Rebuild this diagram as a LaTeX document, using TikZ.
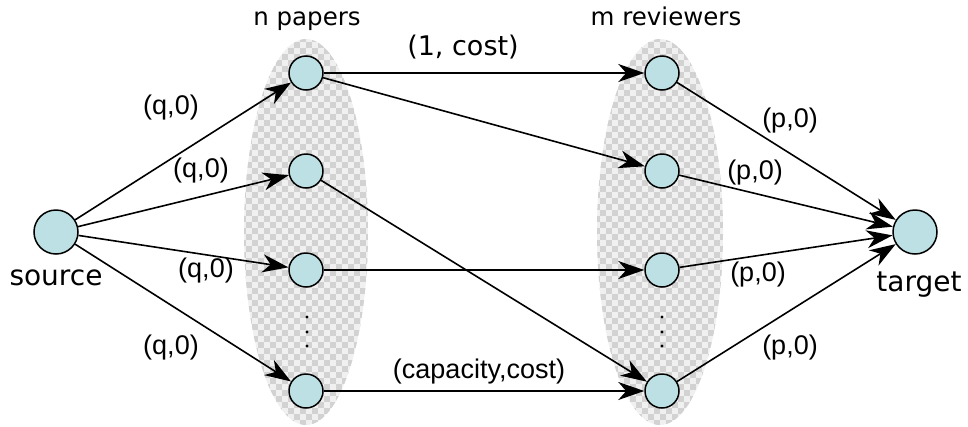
\documentclass[tikz,border=0pt]{standalone}
\usepackage{fontspec}
\setmainfont{DejaVu Sans}
\newfontfamily\lib{Liberation Sans}
\usetikzlibrary{arrows.meta}
\definecolor{nodefill}{HTML}{BCE0E3}
\definecolor{chkA}{HTML}{D2D2D2}
\definecolor{chkB}{HTML}{F0F0F0}
\tikzset{
  flowtip/.tip={Stealth[length=26pt,width=18pt,inset=8pt]},
}
\begin{document}
\begin{tikzpicture}[x=1pt,y=-1pt,
  vtx/.style={circle,draw,line width=1.5pt,fill=nodefill,minimum size=34pt,inner sep=0pt},
  bigvtx/.style={vtx,minimum size=44pt},
  flowedge/.style={line width=1.6pt,-flowtip},
  lbl/.style={font=\lib\fontsize{27}{30}\selectfont,inner sep=0pt},
  hdr/.style={font=\fontsize{24.5}{28}\selectfont,inner sep=0pt,anchor=base},
  big/.style={font=\fontsize{28}{31}\selectfont,inner sep=0pt,anchor=base},
  dot/.style={circle,fill=black,inner sep=0pt,minimum size=3.2pt}
]
\useasboundingbox (0,0) rectangle (968,426);

% checkered ellipses
\begin{scope}
\clip (306,232) ellipse [x radius=62, y radius=193];
\fill[chkB] (240,36) rectangle (372,430);
\foreach \i in {0,...,10} \foreach \j in {0,...,32} {
  \fill[chkA] (240+12*\i,36+12*\j) rectangle ++(6,6);
  \fill[chkA] (246+12*\i,42+12*\j) rectangle ++(6,6);}
\end{scope}
\begin{scope}
\clip (660,232) ellipse [x radius=63, y radius=193];
\fill[chkB] (594,36) rectangle (726,430);
\foreach \i in {0,...,10} \foreach \j in {0,...,32} {
  \fill[chkA] (594+12*\i,36+12*\j) rectangle ++(6,6);
  \fill[chkA] (600+12*\i,42+12*\j) rectangle ++(6,6);}
\end{scope}

% nodes
\node[bigvtx] (s) at (56,232) {};
\node[bigvtx] (t) at (915,232) {};
\node[vtx] (p1) at (306,73) {};
\node[vtx] (p2) at (306,171) {};
\node[vtx] (p3) at (306,270) {};
\node[vtx] (p4) at (306,391) {};
\node[vtx] (r1) at (662,73) {};
\node[vtx] (r2) at (662,171) {};
\node[vtx] (r3) at (662,270) {};
\node[vtx] (r4) at (662,391) {};

\node[dot] (pd1) at (307,317) {};
\node[dot] (pd2) at (307,332) {};
\node[dot] (pd3) at (307,346) {};
\node[dot] (rd1) at (662,317) {};
\node[dot] (rd2) at (662,332) {};
\node[dot] (rd3) at (662,346) {};

% text
\node[big] (src) at (56,285) {source};
\node[big] (tgt) at (919,291) {target};
\node[hdr] (hp) at (307,25) {n papers};
\node[hdr] (hr) at (666,25) {m reviewers};

% edges
\draw[flowedge] (s) -- (p1);
\draw[flowedge] (s) -- (p2);
\draw[flowedge] (s) -- (p3);
\draw[flowedge] (s) -- (p4);
\draw[flowedge] (p1) -- (r1);
\draw[flowedge] (p1) -- (r2);
\draw[flowedge] (p2) -- (r4);
\draw[flowedge] (p3) -- (r3);
\draw[flowedge] (p4) -- (r4);
\draw[flowedge] (r1) -- (t);
\draw[flowedge] (r2) -- (t);
\draw[flowedge] (r3) -- (t);
\draw[flowedge] (r4) -- (t);

% labels
\node[lbl] (q1) at (171,108) {(q,0)};
\node[lbl] (q2) at (201,171) {(q,0)};
\node[lbl] (q3) at (206,271) {(q,0)};
\node[lbl] (q4) at (171,348) {(q,0)};
\node[lbl] (pp1) at (790,121) {(p,0)};
\node[lbl] (pp2) at (755,173) {(p,0)};
\node[lbl] (pp3) at (758,275) {(p,0)};
\node[lbl] (pp4) at (790,348) {(p,0)};
\node[font=\fontsize{27}{30}\selectfont,inner sep=0pt] (c1) at (463,47) {(1, cost)};
\node[lbl] (c2) at (479,372) {(capacity,cost)};
\end{tikzpicture}
\end{document}
